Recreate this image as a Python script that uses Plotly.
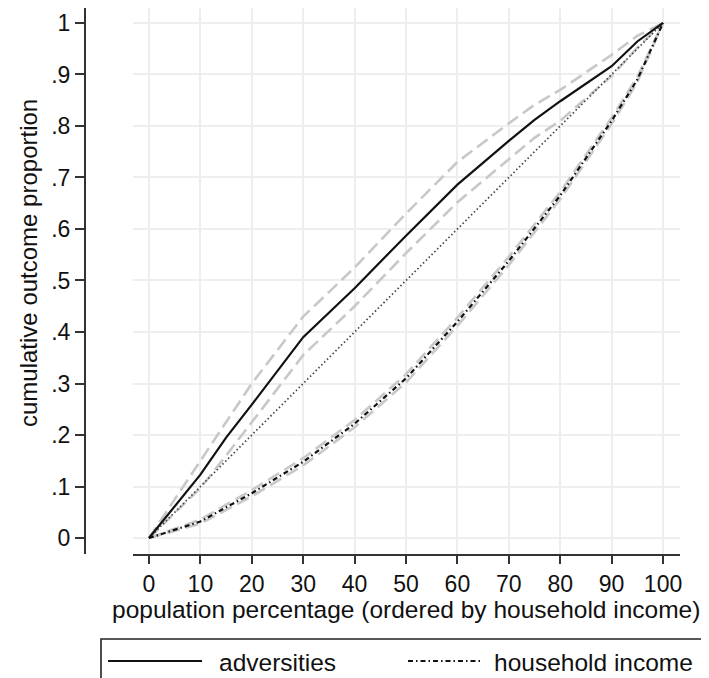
import plotly.graph_objects as go

# ---------------- data ----------------
pop_pct = [0, 10, 15, 20, 30, 40, 50, 60, 70, 75, 80, 90, 95, 100]

adversities = [0, 0.123, 0.195, 0.259, 0.390, 0.485, 0.587, 0.686, 0.771, 0.812, 0.848, 0.916, 0.964, 1.0]
adversities_hi = [0, 0.150, 0.225, 0.300, 0.430, 0.525, 0.630, 0.730, 0.805, 0.841, 0.870, 0.938, 0.975, 1.0]
adversities_lo = [0, 0.097, 0.160, 0.225, 0.355, 0.450, 0.553, 0.652, 0.735, 0.777, 0.810, 0.897, 0.952, 1.0]

income_pct = [0, 10, 20, 30, 40, 50, 60, 70, 80, 90, 95, 100]
income = [0, 0.032, 0.087, 0.148, 0.222, 0.310, 0.420, 0.538, 0.665, 0.810, 0.890, 1.0]
income_hi = [0, 0.036, 0.093, 0.155, 0.229, 0.318, 0.428, 0.546, 0.672, 0.816, 0.895, 1.0]
income_lo = [0, 0.028, 0.081, 0.141, 0.215, 0.302, 0.412, 0.530, 0.658, 0.804, 0.885, 1.0]

equality_x = [0, 100]
equality_y = [0, 1]

x_ticks = [0, 10, 20, 30, 40, 50, 60, 70, 80, 90, 100]
y_ticks = [0, 0.1, 0.2, 0.3, 0.4, 0.5, 0.6, 0.7, 0.8, 0.9, 1.0]
y_ticklabels = ["0", ".1", ".2", ".3", ".4", ".5", ".6", ".7", ".8", ".9", "1"]

legend_labels = ["adversities", "household income"]
x_title = "population percentage (ordered by household income)"
y_title = "cumulative outcome proportion"

# ---------------- layout helpers ----------------
W, H = 709, 678
def px(x):
    return x / W
def py(y):
    return 1 - y / H

FONT = "Liberation Sans, Arial, sans-serif"
BAND = dict(color="#c8c8c8", width=2.6, dash="13px,6px")
DASHDOT = "5px,3px,1.5px,3px"

fig = go.Figure()

for ys in (adversities_hi, adversities_lo):
    fig.add_trace(go.Scatter(x=pop_pct, y=ys, mode="lines", line=BAND,
                             showlegend=False, hoverinfo="skip"))
for ys in (income_hi, income_lo):
    fig.add_trace(go.Scatter(x=income_pct, y=ys, mode="lines", line=BAND,
                             showlegend=False, hoverinfo="skip"))

fig.add_trace(go.Scatter(x=equality_x, y=equality_y, mode="lines",
                         line=dict(color="#444444", width=1.7, dash="1.5px,2.5px"),
                         showlegend=False))
fig.add_trace(go.Scatter(x=pop_pct, y=adversities, mode="lines", name=legend_labels[0],
                         line=dict(color="#111111", width=2.2), showlegend=False))
fig.add_trace(go.Scatter(x=income_pct, y=income, mode="lines", name=legend_labels[1],
                         line=dict(color="#111111", width=2.2, dash=DASHDOT),
                         showlegend=False))

# manual legend (box, keys, labels)
shapes = [
    dict(type="rect", xref="paper", yref="paper", x0=px(93), x1=px(704), y0=py(677), y1=py(631),
         line=dict(color="#222222", width=1.6), fillcolor="rgba(0,0,0,0)"),
    dict(type="line", xref="paper", yref="paper", x0=px(100), x1=px(194), y0=py(653), y1=py(653),
         line=dict(color="#111111", width=2.2)),
    dict(type="line", xref="paper", yref="paper", x0=px(400), x1=px(475), y0=py(653), y1=py(653),
         line=dict(color="#111111", width=2.2, dash=DASHDOT)),
]
annotations = [
    dict(text=legend_labels[0], xref="paper", yref="paper", x=px(209), y=py(654),
         xanchor="left", yanchor="middle", showarrow=False, font=dict(size=24.5, color="#111111", family=FONT)),
    dict(text=legend_labels[1], xref="paper", yref="paper", x=px(484), y=py(654),
         xanchor="left", yanchor="middle", showarrow=False, font=dict(size=24.5, color="#111111", family=FONT)),
    dict(text=x_title, xref="paper", yref="paper", x=px(398), y=py(601),
         xanchor="center", yanchor="middle", showarrow=False, font=dict(size=24.5, color="#111111", family=FONT)),
    dict(text=y_title, xref="paper", yref="paper", x=px(20), y=py(255), textangle=-90,
         xanchor="center", yanchor="middle", showarrow=False, font=dict(size=24, color="#111111", family=FONT)),
]

fig.update_layout(
    width=W, height=H,
    margin=dict(l=0, r=0, t=0, b=0),
    paper_bgcolor="white", plot_bgcolor="white",
    font=dict(family=FONT, size=23, color="#111111"),
    showlegend=False,
    shapes=shapes, annotations=annotations,
    xaxis=dict(domain=[px(125), px(672)], range=[-3.11, 103.3], tickvals=x_ticks,
               ticks="outside", ticklen=8, tickwidth=1.6, tickcolor="#333333",
               showline=True, linecolor="#333333", linewidth=2,
               showgrid=True, gridcolor="#eeeeee", gridwidth=2, zeroline=False,
               automargin=False, fixedrange=True),
    yaxis=dict(domain=[py(546), 1], range=[-0.031, 1.029], tickvals=y_ticks, ticktext=y_ticklabels,
               anchor="free", position=px(77),
               ticks="outside", ticklen=9, tickwidth=1.6, tickcolor="#333333",
               showline=True, linecolor="#333333", linewidth=2,
               showgrid=True, gridcolor="#eeeeee", gridwidth=2, zeroline=False,
               automargin=False, fixedrange=True),
)

fig.write_html("out.html")
